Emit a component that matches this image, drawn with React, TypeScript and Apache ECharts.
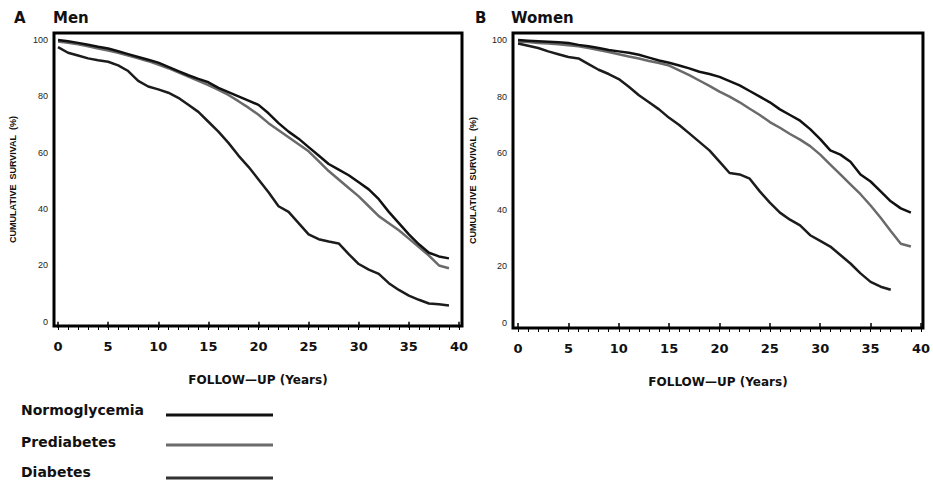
import React, { useEffect, useRef } from "react";
import * as echarts from "echarts";

const YEARS = [0, 1, 2, 3, 4, 5, 6, 7, 8, 9, 10, 11, 12, 13, 14, 15, 16, 17, 18, 19, 20, 21, 22, 23, 24, 25, 26, 27, 28, 29, 30, 31, 32, 33, 34, 35, 36, 37, 38, 39];

const MEN_NORMO = [100, 99.6, 99, 98.3, 97.6, 97, 96, 95, 94, 93, 92, 90.5, 89, 87.5, 86.2, 85, 83, 81.5, 80, 78.5, 77, 74, 70.5, 67.5, 65, 62, 59, 56, 54, 52, 49.5, 47, 43.5, 39, 35, 31, 27.5, 24.5, 23.2, 22.5];
const MEN_PRE = [99.5, 99, 98.5, 97.8, 97, 96.3, 95.5, 94.5, 93.5, 92.5, 91.3, 90, 88.5, 87, 85.5, 84, 82.3, 80.5, 78.3, 76, 73.5, 70.5, 68, 65.5, 63, 60.5, 57, 53.5, 50.5, 47.5, 44.5, 41, 37.5, 35, 32.5, 29.5, 26.5, 23.5, 20, 19];
const MEN_DIAB = [97.5, 95.5, 94.5, 93.5, 92.8, 92.3, 91, 89, 85.5, 83.5, 82.5, 81.3, 79.5, 77, 74.5, 71, 67.5, 63.5, 59, 55, 50.5, 46, 41, 39, 35, 31, 29.3, 28.5, 27.8, 24, 20.5, 18.5, 17, 13.7, 11.3, 9.3, 7.8, 6.5, 6.2, 5.8];

const WOMEN_NORMO = [100, 99.8, 99.6, 99.4, 99.2, 99, 98.3, 97.8, 97.2, 96.5, 96, 95.5, 94.8, 93.8, 92.8, 92, 91, 90, 88.8, 88, 87, 85.5, 84, 82, 80, 78, 75.5, 73.5, 71.5, 68.5, 65, 61, 59.5, 57, 52.5, 50, 46.5, 43, 40.5, 39];
const WOMEN_PRE = [99.5, 99.3, 99, 98.8, 98.5, 98.2, 97.8, 97.2, 96.5, 95.8, 95, 94.2, 93.5, 92.6, 91.9, 91, 89.3, 87.6, 85.7, 83.8, 81.8, 80, 78, 75.7, 73.5, 71, 69, 66.8, 64.8, 62.5, 59.5, 56, 52.5, 49, 45.5, 41.5, 37.2, 32.5, 28, 27];
const WOMEN_DIAB = [98.8, 98, 97.2, 96, 95, 94, 93.5, 91.5, 89.5, 88, 86.2, 83.5, 80.5, 78, 75.5, 72.5, 70, 67, 64, 61, 57, 53, 52.5, 51, 46.5, 42.5, 39, 36.5, 34.5, 31, 29, 27, 24, 21, 17.5, 14.5, 12.8, 11.7];

const X_TICKS = [0, 5, 10, 15, 20, 25, 30, 35, 40];
const X_MINOR = [0, 1, 2, 3, 4, 5, 6, 7, 8, 9, 10, 11, 12, 13, 14, 15, 16, 17, 18, 19, 20, 21, 22, 23, 24, 25, 26, 27, 28, 29, 30, 31, 32, 33, 34, 35, 36, 37, 38, 39, 40];
const Y_TICKS = [0, 20, 40, 60, 80, 100];

const LEGEND_NAMES = ["Normoglycemia", "Prediabetes", "Diabetes"];
const PANEL_LETTERS = ["A", "B"];
const PANEL_TITLES = ["Men", "Women"];
const X_TITLE = "FOLLOW\u2014UP (Years)";
const Y_TITLE = "CUMULATIVE  SURVIVAL  (%)";

const C_NORMO = "#111111";
const C_PRE = "#6a6a6a";
const C_DIAB = "#1c1c1c";
const C_DIAB_LEG = "#333333";

const pairs = (vals: number[]) => vals.map((v, i) => [YEARS[i], v]);

export default function App() {
  const ref = useRef<HTMLDivElement>(null);
  useEffect(() => {
    if (!ref.current) return;
    const chart = echarts.init(ref.current, undefined, { renderer: "svg" });
    const grids = [
      { left: 54, top: 33, width: 408, height: 293, xmin: -0.4, xmax: 40.3, ymin: -1.5, ymax: 102.5, yGap: 37 },
      { left: 513, top: 33, width: 411, height: 295, xmin: -0.5, xmax: 40.2, ymin: -1.8, ymax: 102.5, yGap: 36 },
    ];
    const xAxes: any[] = [];
    const yAxes: any[] = [];
    grids.forEach((g, gi) => {
      xAxes.push({
        type: "value", gridIndex: gi, min: g.xmin, max: g.xmax, position: "bottom",
        axisLine: { show: false }, splitLine: { show: false },
        axisTick: { show: true, customValues: X_TICKS, length: 6, lineStyle: { color: "#000", width: 1.5 } },
        axisLabel: { customValues: X_TICKS, fontFamily: "DejaVu Sans", fontWeight: "bold", fontSize: 13, color: "#111", margin: 14 },
        name: X_TITLE, nameLocation: "middle", nameGap: 48,
        nameTextStyle: { fontFamily: "DejaVu Sans", fontWeight: "bold", fontSize: 12, color: "#111" },
      });
      xAxes.push({
        type: "value", gridIndex: gi, min: g.xmin, max: g.xmax, position: "bottom",
        axisLine: { show: false }, splitLine: { show: false }, axisLabel: { show: false },
        axisTick: { show: true, customValues: X_MINOR, length: 4, lineStyle: { color: "#000", width: 1 } },
      });
      yAxes.push({
        type: "value", gridIndex: gi, min: g.ymin, max: g.ymax,
        axisLine: { show: false }, axisTick: { show: false }, splitLine: { show: false },
        axisLabel: { customValues: Y_TICKS, fontFamily: "Liberation Sans", fontSize: 9, color: "#222", margin: 6 },
        name: Y_TITLE, nameLocation: "middle", nameGap: g.yGap, nameRotate: 90,
        nameTextStyle: { fontFamily: "Liberation Sans", fontWeight: "bold", fontSize: 9, color: "#111" },
      });
    });

    const mk = (name: string, data: number[], color: string, gi: number, z: number) => ({
      name, type: "line", xAxisIndex: gi * 2, yAxisIndex: gi, data: pairs(data),
      showSymbol: false, symbol: "none", z,
      lineStyle: { color, width: 2.5 },
    });

    const series = [
      mk(LEGEND_NAMES[1], MEN_PRE, C_PRE, 0, 2),
      mk(LEGEND_NAMES[2], MEN_DIAB, C_DIAB, 0, 3),
      mk(LEGEND_NAMES[0], MEN_NORMO, C_NORMO, 0, 4),
      mk(LEGEND_NAMES[1], WOMEN_PRE, C_PRE, 1, 2),
      mk(LEGEND_NAMES[2], WOMEN_DIAB, C_DIAB, 1, 3),
      mk(LEGEND_NAMES[0], WOMEN_NORMO, C_NORMO, 1, 4),
    ];

    const titleStyle = { fontFamily: "DejaVu Sans", fontWeight: "bold", fontSize: 15, fill: "#111", verticalAlign: "middle" };
    const legendColors = [C_NORMO, C_PRE, C_DIAB_LEG];
    const legendTextY = [410, 442, 472];
    const legendLineY = [415, 445, 478];

    const graphic: any[] = [
      { type: "text", x: 14, y: 18, style: { ...titleStyle, text: PANEL_LETTERS[0] } },
      { type: "text", x: 53, y: 18, style: { ...titleStyle, text: PANEL_TITLES[0] } },
      { type: "text", x: 475, y: 18, style: { ...titleStyle, text: PANEL_LETTERS[1] } },
      { type: "text", x: 511, y: 18, style: { ...titleStyle, text: PANEL_TITLES[1] } },
    ];
    LEGEND_NAMES.forEach((n, i) => {
      graphic.push({
        type: "text", x: 21, y: legendTextY[i],
        style: { text: n, fontFamily: "DejaVu Sans", fontWeight: "bold", fontSize: 14, fill: "#111", verticalAlign: "middle" },
      });
      graphic.push({
        type: "line", shape: { x1: 166, y1: legendLineY[i], x2: 273, y2: legendLineY[i] },
        style: { stroke: legendColors[i], lineWidth: 3 },
      });
    });

    chart.setOption({
      animation: false,
      backgroundColor: "#ffffff",
      grid: grids.map((g) => ({
        left: g.left, top: g.top, width: g.width, height: g.height,
        show: true, borderColor: "#000", borderWidth: 3, backgroundColor: "#fff",
      })),
      xAxis: xAxes,
      yAxis: yAxes,
      series,
      graphic,
    });
    return () => chart.dispose();
  }, []);
  return <div ref={ref} style={{ position: "fixed", left: 0, top: 0, width: 933, height: 483, background: "#fff" }} />;
}
